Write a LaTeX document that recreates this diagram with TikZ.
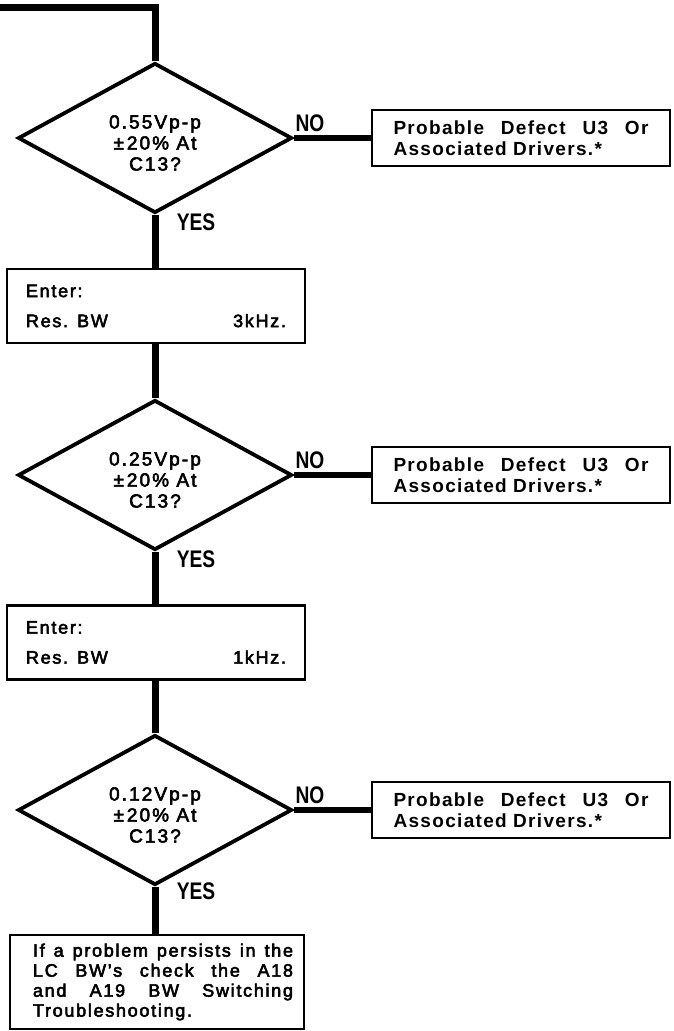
\documentclass[tikz,border=0pt]{standalone}
\usepackage{fontspec}
\setmainfont{Liberation Sans}
\newfontfamily\txtfont[LetterSpace=9.5, FakeBold=3]{Liberation Sans}
\newfontfamily\diafont[LetterSpace=11, FakeBold=3]{Liberation Sans}
\newfontfamily\pfont[LetterSpace=7]{Liberation Sans}
\newfontfamily\lblfont[FakeStretch=0.8]{Liberation Sans}
\usetikzlibrary{shapes.geometric}
\tikzset{
  conn/.style={line width=7pt},
  noconn/.style={line width=6pt},
  dia/.style={diamond, draw, line width=3.8pt, minimum width=274pt, minimum height=150pt,
    inner sep=0pt},
  dtxt/.style={inner sep=0pt, align=center, font=\diafont\fontsize{19}{21}\selectfont},
  ebox/.style={rectangle, draw, line width=2.6pt, minimum width=298pt, minimum height=74pt,
    inner xsep=19pt, text width=260pt, align=left, font=\txtfont\fontsize{18}{30}\selectfont},
  pbox/.style={rectangle, draw, line width=2.6pt, minimum width=298pt, minimum height=56pt,
    inner xsep=21.5pt, text width=255pt, align=left, font=\pfont\bfseries\fontsize{19}{20.5}\selectfont},
  fbox/.style={rectangle, draw, line width=2.6pt, minimum width=294pt, minimum height=94pt,
    inner xsep=11pt, text width=272pt, align=left, font=\txtfont\fontsize{18}{20}\selectfont},
  lbl/.style={inner sep=0pt, font=\lblfont\bfseries\fontsize{24}{24}\selectfont}
}
\begin{document}
\begin{tikzpicture}[x=1pt,y=-1pt]
\useasboundingbox (0,0) rectangle (674,1031);
% nodes
\coordinate (start) at (0,7);
\node[dia] (d1) at (155,138) {};
\node[dtxt] (t1) at ([yshift=-5pt]d1.center) {0.55Vp-p\\±\kern3pt20\% At\\C13?};
\node[pbox] (p1) at (521,138) {\hbox to 255pt{Probable\hfill Defect\hfill U3\hfill Or}\\Associated Drivers.*};
\node[ebox] (e1) at (156,306) {Enter:\\Res. BW\hfill 3kHz.};
\node[dia] (d2) at (155,475) {};
\node[dtxt] (t2) at ([yshift=-5pt]d2.center) {0.25Vp-p\\±\kern3pt20\% At\\C13?};
\node[pbox] (p2) at (521,475) {\hbox to 255pt{Probable\hfill Defect\hfill U3\hfill Or}\\Associated Drivers.*};
\node[ebox] (e2) at (156,642.5) {Enter:\\Res. BW\hfill 1kHz.};
\node[dia] (d3) at (155,810) {};
\node[dtxt] (t3) at ([yshift=-5pt]d3.center) {0.12Vp-p\\±\kern3pt20\% At\\C13?};
\node[pbox] (p3) at (521,810) {\hbox to 255pt{Probable\hfill Defect\hfill U3\hfill Or}\\Associated Drivers.*};
\node[fbox] (f) at (157,982) {\hspace*{12pt}\hbox to 260pt{If\hfill a\hfill problem\hfill persists\hfill in\hfill the}\\\hspace*{12pt}\hbox to 260pt{LC\hfill BW’s\hfill check\hfill the\hfill A18}\\\hspace*{12pt}\hbox to 260pt{and\hfill A19\hfill BW\hfill Switching}\\\hspace*{12pt}Troubleshooting.};
% labels
\node[lbl] (no1) at (310,123.5) {NO};
\node[lbl] (yes1) at (196,222) {YES};
\node[lbl] (no2) at (310,460) {NO};
\node[lbl] (yes2) at (196,559) {YES};
\node[lbl] (no3) at (310,795) {NO};
\node[lbl] (yes3) at (196,891) {YES};
% connectors
\draw[conn] (start) -| (d1.north);
\draw[noconn] (d1.east) -- (p1.west);
\draw[conn] (d1.south) -- (d1.south |- e1.north);
\draw[conn] (d2.north |- e1.south) -- (d2.north);
\draw[noconn] (d2.east) -- (p2.west);
\draw[conn] (d2.south) -- (d2.south |- e2.north);
\draw[conn] (d3.north |- e2.south) -- (d3.north);
\draw[noconn] (d3.east) -- (p3.west);
\draw[conn] (d3.south) -- (d3.south |- f.north);
\end{tikzpicture}
\end{document}
